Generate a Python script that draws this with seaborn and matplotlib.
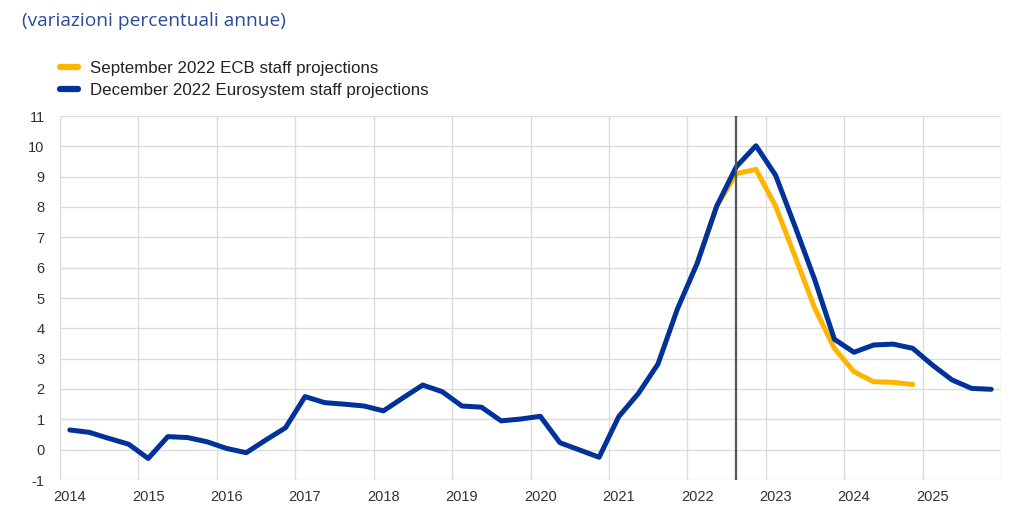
import numpy as np
import pandas as pd
import matplotlib
matplotlib.use("Agg")
import matplotlib.pyplot as plt
import seaborn as sns

# ---- data ----
years = ["2014", "2015", "2016", "2017", "2018", "2019",
         "2020", "2021", "2022", "2023", "2024", "2025"]
december_2022 = [0.65, 0.57, 0.37, 0.18,
                 -0.29, 0.43, 0.40, 0.26,
                 0.04, -0.10, 0.32, 0.72,
                 1.75, 1.55, 1.50, 1.44,
                 1.28, 1.71, 2.13, 1.91,
                 1.44, 1.40, 0.95, 1.01,
                 1.10, 0.23, -0.01, -0.25,
                 1.09, 1.85, 2.82, 4.65,
                 6.14, 8.03, 9.33, 10.02,
                 9.05, 7.35, 5.60, 3.64,
                 3.21, 3.45, 3.48, 3.34,
                 2.79, 2.30, 2.02, 1.99]
september_2022_start = 32  # 2022 Q1
september_2022 = [6.14, 8.03, 9.10, 9.24,
                  8.03, 6.36, 4.66, 3.34,
                  2.57, 2.24, 2.22, 2.15]
cutoff_quarter = 34  # 2022 Q3

series_names = ["September 2022 ECB staff projections",
                "December 2022 Eurosystem staff projections"]
colors = ["#FFB400", "#003299"]
title = "(variazioni percentuali annue)"

# ---- figure ----
sns.set_theme(style="white")
plt.rcParams["font.family"] = ["Liberation Sans", "DejaVu Sans"]
plt.rcParams["axes.unicode_minus"] = False

fig = plt.figure(figsize=(10.24, 5.32), dpi=100)
ax = fig.add_axes([60 / 1024, 1 - 480 / 532, (1001 - 60) / 1024, (480 - 116) / 532])

dec_df = pd.DataFrame({"pos": np.arange(len(december_2022)), "value": december_2022})
sep_df = pd.DataFrame({"pos": np.arange(september_2022_start,
                                        september_2022_start + len(september_2022)),
                       "value": september_2022})

sns.lineplot(data=sep_df, x="pos", y="value", ax=ax, color=colors[0], linewidth=3.6,
             label=series_names[0], zorder=3)
sns.lineplot(data=dec_df, x="pos", y="value", ax=ax, color=colors[1], linewidth=3.6,
             label=series_names[1], zorder=4)

ax.axvline(cutoff_quarter, color="#555555", linewidth=1.6, zorder=5)

ax.set_xlim(-0.5, len(december_2022) - 0.5)
ax.set_ylim(-1, 11)
ax.set_yticks(range(-1, 12))
ax.set_xticks(np.arange(0, len(december_2022), 4))
ax.set_xticklabels(years)
ax.set_xticks(np.arange(-0.5, len(december_2022), 4), minor=True)
ax.grid(axis="y", which="major", color="#dcdcdc", linewidth=1.0)
ax.grid(axis="x", which="minor", color="#dcdcdc", linewidth=1.0)
ax.grid(axis="x", which="major", visible=False)
for s in ax.spines.values():
    s.set_visible(False)
ax.tick_params(axis="both", which="both", length=0, labelsize=10.5, colors="#333333")
ax.tick_params(axis="y", pad=11)
ax.tick_params(axis="x", pad=7)
ax.set_xlabel("")
ax.set_ylabel("")

handles, labels = ax.get_legend_handles_labels()
leg = ax.legend(handles, labels, loc="upper left", bbox_to_anchor=(60 / 1024, 1 - 61 / 532),
                bbox_transform=fig.transFigure, frameon=False, fontsize=12.2,
                handlelength=1.05, handletextpad=0.75, labelspacing=0.42,
                borderaxespad=0, borderpad=0)
for line in leg.get_lines():
    line.set_linewidth(4.5)
for t in leg.get_texts():
    t.set_color("#222222")

fig.text(22 / 1024, 1 - 21 / 532, title, fontsize=13.8, color="#2B4A9B",
         family=["Open Sans", "DejaVu Sans"], va="center", ha="left")

fig.savefig("out.png", dpi=100)
